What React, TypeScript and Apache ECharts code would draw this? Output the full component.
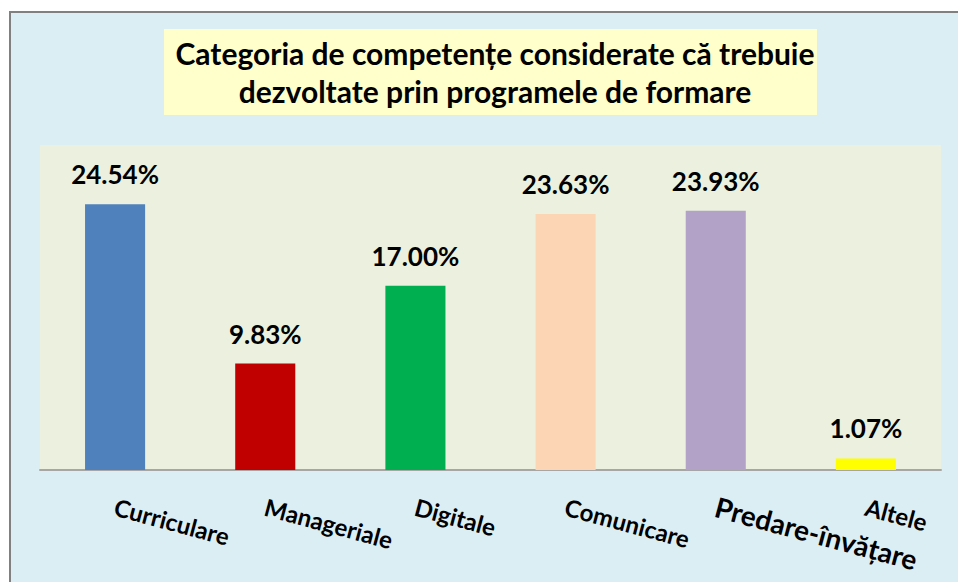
import React, { useEffect, useRef } from "react";
import * as echarts from "echarts";

const categories = ["Curriculare", "Manageriale", "Digitale", "Comunicare", "Predare-învățare", "Altele"];
const values = [24.54, 9.83, 17.0, 23.63, 23.93, 1.07];
const barColors = ["#4f81bd", "#c00000", "#00b050", "#fcd5b5", "#b3a2c7", "#ffff00"];
const titleText = "Categoria de competențe considerate că trebuie\ndezvoltate prin programele de formare";

const FONT = "Lato, 'DejaVu Sans', sans-serif";

export default function App() {
  const ref = useRef<HTMLDivElement>(null);
  useEffect(() => {
    const chart = echarts.init(ref.current!, null, { renderer: "svg" });
    chart.setOption({
      animation: false,
      backgroundColor: "#ffffff",
      graphic: [
        {
          type: "rect",
          z: -10,
          shape: { x: 10, y: 12, width: 980, height: 600 },
          style: { fill: "#dbeef4", stroke: "#808080", lineWidth: 2 },
        },
        {
          type: "rect",
          z: -9,
          shape: { x: 164, y: 29, width: 653, height: 86 },
          style: { fill: "#ffffcc" },
        },
      ],
      title: {
        text: titleText,
        left: 490,
        top: 29,
        textAlign: "center",
        textStyle: {
          fontFamily: FONT,
          fontSize: 30,
          fontWeight: "bold",
          color: "#000",
          lineHeight: 38,
        },
      },
      grid: {
        left: 40,
        right: 17,
        top: 145,
        bottom: 112,
        show: true,
        backgroundColor: "#ebf1de",
        borderWidth: 0,
      },
      xAxis: {
        type: "category",
        data: categories,
        axisLine: { show: true, lineStyle: { color: "#a6a6a6", width: 2 } },
        axisTick: { show: false },
        axisLabel: {
          rotate: -15,
          margin: 36,
          interval: 0,
          formatter: (v: string) => (v === "Predare-învățare" ? `{big|${v}}` : `{n|${v}}`),
          rich: {
            n: { fontFamily: FONT, fontSize: 24, fontWeight: "bold", color: "#000" },
            big: { fontFamily: FONT, fontSize: 28, fontWeight: "bold", color: "#000" },
          },
        },
      },
      yAxis: {
        type: "value",
        min: 0,
        max: 30,
        show: false,
        splitLine: { show: false },
      },
      series: [
        {
          type: "bar",
          barWidth: "40%",
          data: values.map((v, i) => ({ value: v, itemStyle: { color: barColors[i] } })),
          label: {
            show: true,
            position: "top",
            distance: 17,
            formatter: (p: any) => p.value.toFixed(2) + "%",
            fontFamily: FONT,
            fontSize: 26,
            fontWeight: "bold",
            color: "#000",
          },
        },
      ],
    });
    return () => chart.dispose();
  }, []);
  return <div ref={ref} style={{ position: "fixed", left: 0, top: 0, width: 958, height: 582 }} />;
}
